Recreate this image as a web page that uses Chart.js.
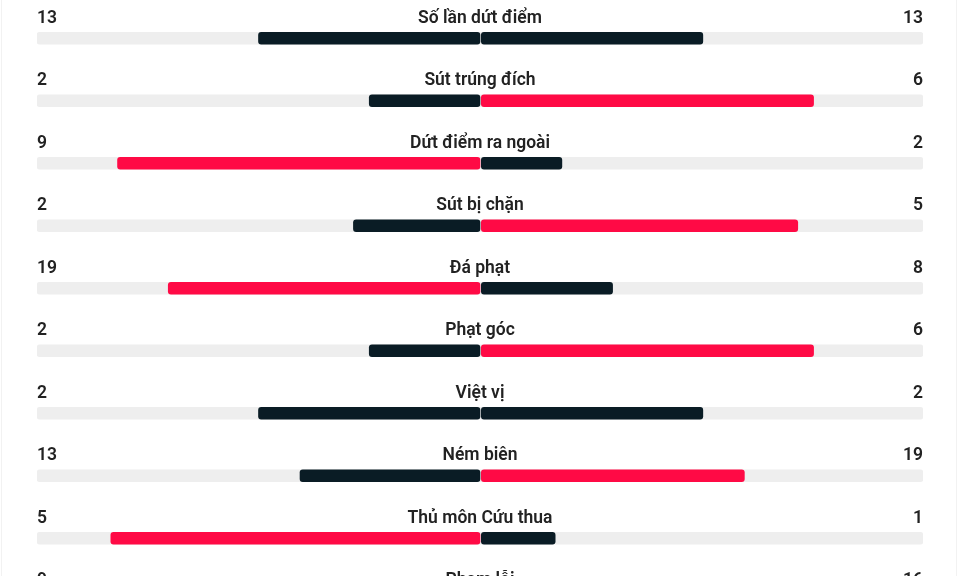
<!DOCTYPE html>
<html>
<head>
<meta charset="utf-8">
<script src="https://cdn.jsdelivr.net/npm/chart.js@4.4.1/dist/chart.umd.min.js"></script>
<style>
    html, body { margin: 0; padding: 0; background: #fff; overflow: hidden; }
    #wrap { position: relative; width: 960px; height: 640px; }
    #edgeL, #edgeR { position: absolute; top: 0; width: 1px; height: 640px; background: #f2f2f2; }
    #edgeL { left: 1px; }
    #edgeR { left: 956px; }
</style>
</head>
<body>
<div id="wrap">
    <canvas id="statsChart"></canvas>
    <div id="edgeL"></div>
    <div id="edgeR"></div>
</div>
<script>
const labels = ['Số lần dứt điểm', 'Sút trúng đích', 'Dứt điểm ra ngoài', 'Sút bị chặn', 'Đá phạt', 'Phạt góc', 'Việt vị', 'Ném biên', 'Thủ môn Cứu thua', 'Phạm lỗi'];
const homeValues = [13, 2, 9, 2, 19, 2, 2, 13, 5, 9];
const awayValues = [13, 6, 2, 5, 8, 6, 2, 19, 1, 16];

const RED = '#ff0a45';
const DARK = '#0a1c25';
const TRACK = '#eeeeee';
const GAP = 0.3; // small gap between the two halves

const homeShare = homeValues.map((h, i) => h / (h + awayValues[i]) * 100);
const awayShare = awayValues.map((a, i) => a / (homeValues[i] + a) * 100);

const homeColors = homeValues.map((h, i) => h > awayValues[i] ? RED : DARK);
const awayColors = awayValues.map((a, i) => a > homeValues[i] ? RED : DARK);

const textPlugin = {
    id: 'statText',
    afterDatasetsDraw(chart) {
        const { ctx, chartArea, scales } = chart;
        const midX = scales.x.getPixelForValue(0);
        ctx.save();
        ctx.fillStyle = '#222222';
        ctx.font = "600 17.5px 'Roboto', sans-serif";
        ctx.textBaseline = 'alphabetic';
        labels.forEach((label, i) => {
            const y = scales.y.getPixelForValue(i) - 15.5;
            ctx.textAlign = 'left';
            ctx.fillText(String(homeValues[i]), chartArea.left, y);
            ctx.textAlign = 'center';
            ctx.fillText(label, midX, y);
            ctx.textAlign = 'right';
            ctx.fillText(String(awayValues[i]), chartArea.right, y);
        });
        ctx.restore();
    }
};

new Chart(document.getElementById('statsChart'), {
    type: 'bar',
    data: {
        labels: labels,
        datasets: [
            {
                label: 'home',
                data: homeShare.map(s => [-s, 0]),
                backgroundColor: homeColors,
                order: 1
            },
            {
                label: 'away',
                data: awayShare.map(s => [GAP, GAP + s]),
                backgroundColor: awayColors,
                order: 1
            },
            {
                label: 'track',
                data: labels.map(() => [-100, 100]),
                backgroundColor: TRACK,
                order: 2
            }
        ]
    },
    options: {
        indexAxis: 'y',
        responsive: true,
        maintainAspectRatio: false,
        animation: false,
        datasets: {
            bar: {
                grouped: false,
                barThickness: 12,
                borderRadius: 3,
                borderSkipped: false
            }
        },
        layout: {
            padding: { top: 7, bottom: 8, left: 37, right: 37 }
        },
        scales: {
            x: { display: false, min: -100, max: 100 },
            y: { display: false }
        },
        plugins: {
            legend: { display: false },
            tooltip: { enabled: false }
        }
    },
    plugins: [textPlugin]
});
</script>
</body>
</html>
